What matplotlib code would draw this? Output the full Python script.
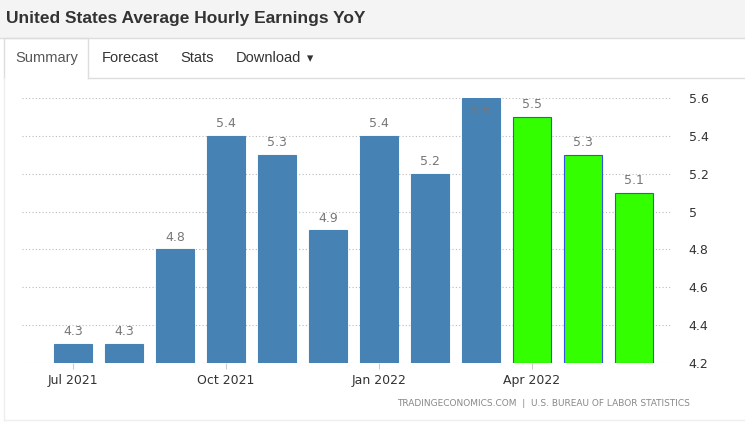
import matplotlib
matplotlib.use("Agg")
import matplotlib.pyplot as plt
from matplotlib.patches import Rectangle
from matplotlib.lines import Line2D

months = ["Jul 2021","Aug 2021","Sep 2021","Oct 2021","Nov 2021","Dec 2021",
          "Jan 2022","Feb 2022","Mar 2022","Apr 2022","May 2022","Jun 2022"]
values = [4.3,4.3,4.8,5.4,5.3,4.9,5.4,5.2,5.6,5.5,5.3,5.1]
is_forecast = [False]*9 + [True]*3
yticks = [4.2,4.4,4.6,4.8,5.0,5.2,5.4,5.6]
ytick_labels = ["4.2","4.4","4.6","4.8","5","5.2","5.4","5.6"]
xtick_idx = [0,3,6,9]

W, H = 745, 442
fig = plt.figure(figsize=(W/100, H/100), dpi=100)
fig.patch.set_facecolor("white")

def fx(x): return x/W
def fy(y): return 1 - y/H

fig.patches.append(Rectangle((0, fy(38)), 1, 38/H, transform=fig.transFigure,
                             facecolor="#f4f4f4", edgecolor="none"))
fig.lines.append(Line2D([0,1],[fy(38),fy(38)], transform=fig.transFigure, color="#dddddd", lw=1))
fig.text(fx(6), fy(18), "United States Average Hourly Earnings YoY", fontsize=12.5,
         fontweight="bold", color="#333333", va="center", ha="left", family="Liberation Sans")
fig.lines.append(Line2D([fx(88),1],[fy(78),fy(78)], transform=fig.transFigure, color="#dddddd", lw=1))
fig.lines.append(Line2D([fx(4),fx(4),fx(88),fx(88)],[fy(78),fy(38),fy(38),fy(78)],
                        transform=fig.transFigure, color="#dddddd", lw=1))
for x, t in [(47,"Summary"),(130,"Forecast"),(197,"Stats"),(268,"Download")]:
    fig.text(fx(x), fy(58), t, fontsize=10.5, color="#333333" if t!="Summary" else "#555555",
             ha="center", va="center", family="Liberation Sans")
fig.text(fx(310), fy(59), "▾", fontsize=9, color="#333333", ha="center", va="center")
fig.lines.append(Line2D([fx(4),fx(4)],[fy(78),fy(420)], transform=fig.transFigure, color="#eeeeee", lw=1))
fig.lines.append(Line2D([fx(4),1],[fy(420),fy(420)], transform=fig.transFigure, color="#eeeeee", lw=1))

ax = fig.add_axes([fx(22), fy(363), fx(672)-fx(22), (363-98)/H])
x = list(range(len(values)))
colors = ["#33ff00" if f else "#4682b4" for f in is_forecast]
edges = ["#3355dd" if f else "#4682b4" for f in is_forecast]
ax.bar(x, [v-4.2 for v in values], bottom=4.2, width=0.74, color=colors, edgecolor=edges, linewidth=0.8, zorder=3)
for i, v in enumerate(values):
    if v >= 5.6:
        ax.text(i, v-0.03, f"{v:.1f}", ha="center", va="top", fontsize=9, color="#777777", zorder=4)
    else:
        ax.text(i, v+0.03, f"{v:.1f}", ha="center", va="bottom", fontsize=9, color="#777777", zorder=4)
ax.set_ylim(4.2, 5.6)
ax.set_xlim(-1.0, 11.75)
ax.yaxis.tick_right()
ax.set_yticks(yticks)
ax.set_yticklabels(ytick_labels, fontsize=9, color="#333333")
ax.tick_params(axis="y", length=0, pad=12)
ax.set_xticks(xtick_idx)
ax.set_xticklabels([months[i] for i in xtick_idx], fontsize=9, color="#333333")
ax.tick_params(axis="x", length=4, color="#cccccc", pad=4)
ax.grid(axis="y", linestyle=(0,(1,2)), color="#bbbbbb", lw=0.8, zorder=0)
for s in ax.spines.values():
    s.set_visible(False)
ax.set_facecolor("none")

fig.text(fx(690), fy(404), "TRADINGECONOMICS.COM  |  U.S. BUREAU OF LABOR STATISTICS",
         fontsize=6.5, color="#888888", ha="right", va="center")

fig.savefig("out.png", dpi=100)
